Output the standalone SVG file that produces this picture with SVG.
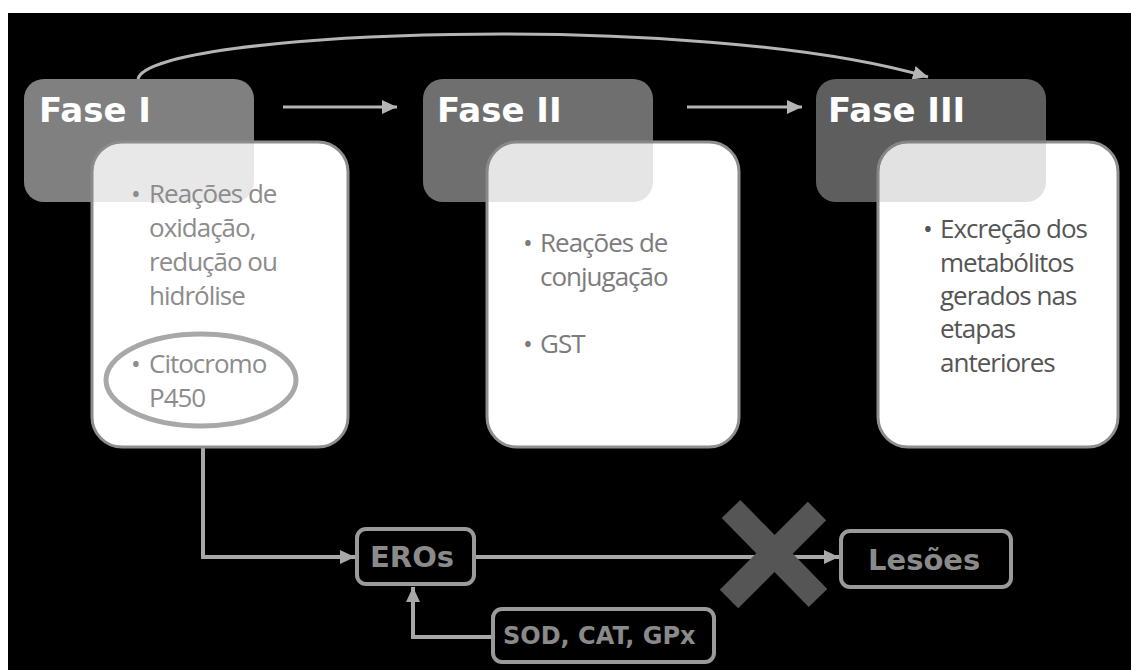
<svg xmlns="http://www.w3.org/2000/svg" width="1131" height="670" viewBox="0 0 1131 670">
<defs>
<style>
.card{fill:#fff;stroke:#8e8e8e;stroke-width:3}
.veil{fill-opacity:0.18;stroke:none}
.title{font-family:"DejaVu Sans",sans-serif;font-weight:bold;font-size:34px;fill:#fff}
.body{font-family:"Open Sans",sans-serif;font-size:26px;letter-spacing:-1px}
.conn{fill:none;stroke:#b4b4b4;stroke-width:3}
.conn2{fill:none;stroke:#a8a8a8;stroke-width:4}
.small{fill:#000;stroke:#9a9a9a;stroke-width:4}
.lbl{font-family:"DejaVu Sans",sans-serif;font-weight:bold;fill:#8a8a8a}
</style>
<marker id="ah" markerUnits="userSpaceOnUse" markerWidth="16" markerHeight="14" refX="15" refY="7" orient="auto">
<path d="M0,0 L15,7 L0,14 z" fill="#b4b4b4"/>
</marker>
<marker id="ah2" markerUnits="userSpaceOnUse" markerWidth="16" markerHeight="14" refX="15" refY="7" orient="auto">
<path d="M0,0 L15,7 L0,14 z" fill="#a8a8a8"/>
</marker>
</defs>
<rect x="0" y="0" width="1131" height="670" fill="#fff"/>
<rect x="8" y="13" width="1123" height="657" fill="#000"/>

<g id="connectors">
<path class="conn" d="M138,79 C150,30 700,10 928,77" marker-end="url(#ah)"/>
<line class="conn" x1="283" y1="107" x2="397" y2="107" marker-end="url(#ah)"/>
<line class="conn" x1="687" y1="107" x2="802" y2="107" marker-end="url(#ah)"/>
<path class="conn2" d="M203,427 L203,557 L355,557" marker-end="url(#ah2)"/>
<path class="conn2" d="M474,557 L839,557" marker-end="url(#ah2)"/>
<path class="conn2" d="M493,637 L413,637 L413,587" marker-end="url(#ah2)"/>
</g>

<g id="fase1">
<rect x="24" y="79" width="230" height="123" rx="20" fill="#808080"/>
<rect class="card" x="92" y="142" width="256" height="305" rx="30"/>
<rect class="veil" x="24" y="79" width="230" height="123" rx="20" fill="#808080"/>
<text class="title" x="39" y="122">Fase I</text>
<g class="body" fill="#8c8c8c">
<text x="131" y="203">•</text>
<text x="149" y="203">Reações de</text>
<text x="149" y="237">oxidação,</text>
<text x="149" y="271">redução ou</text>
<text x="149" y="305">hidrólise</text>
<text x="131" y="373">•</text>
<text x="149" y="373">Citocromo</text>
<text x="149" y="407">P450</text>
</g>
<ellipse cx="201" cy="380" rx="95" ry="46" fill="none" stroke="#a8a8a8" stroke-width="5"/>
</g>

<g id="fase2">
<rect x="423" y="79" width="230" height="123" rx="20" fill="#707070"/>
<rect class="card" x="487" y="142" width="252" height="305" rx="30"/>
<rect class="veil" x="423" y="79" width="230" height="123" rx="20" fill="#707070"/>
<text class="title" x="437" y="122">Fase II</text>
<g class="body" fill="#7c7c7c">
<text x="523" y="252">•</text>
<text x="540" y="252">Reações de</text>
<text x="540" y="286">conjugação</text>
<text x="523" y="353">•</text>
<text x="540" y="353">GST</text>
</g>
</g>

<g id="fase3">
<rect x="816" y="79" width="230" height="123" rx="20" fill="#5e5e5e"/>
<rect class="card" x="878" y="142" width="240" height="305" rx="30"/>
<rect class="veil" x="816" y="79" width="230" height="123" rx="20" fill="#5e5e5e"/>
<text class="title" x="828" y="122">Fase III</text>
<g class="body" fill="#555">
<text x="923" y="238">•</text>
<text x="940" y="238">Excreção dos</text>
<text x="940" y="272">metabólitos</text>
<text x="940" y="305">gerados nas</text>
<text x="940" y="338">etapas</text>
<text x="940" y="372">anteriores</text>
</g>
</g>

<g id="eros">
<rect class="small" x="357" y="529" width="117" height="55" rx="9"/>
<text class="lbl" x="370" y="567" font-size="29">EROs</text>
</g>

<g id="sod">
<rect class="small" x="493" y="609" width="221" height="53" rx="9"/>
<text class="lbl" x="503" y="644" font-size="24">SOD, CAT, GPx</text>
</g>

<g id="lesoes">
<rect class="small" x="841" y="531" width="170" height="56" rx="9"/>
<text class="lbl" x="868" y="570" font-size="29">Lesões</text>
</g>

<g id="cross" stroke="#555" stroke-width="26">
<line x1="731" y1="509" x2="818" y2="598"/>
<line x1="817" y1="511" x2="729" y2="599"/>
</g>
</svg>
